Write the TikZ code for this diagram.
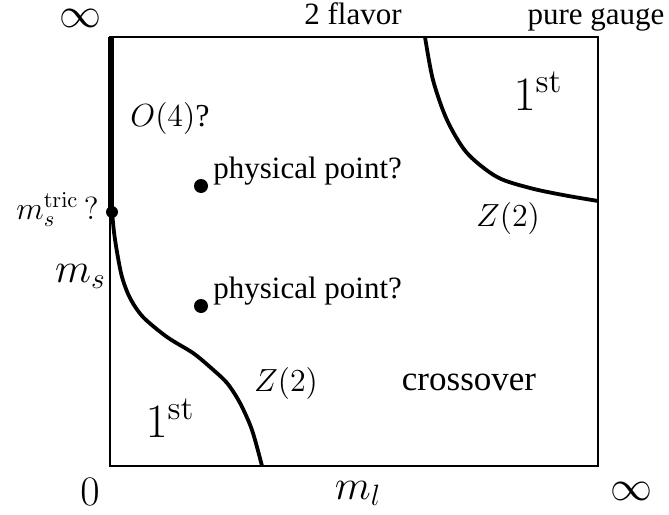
\RequirePackage{fix-cm}
\documentclass[tikz,border=0pt]{standalone}
\usepackage[no-math]{fontspec}
\setmainfont{Liberation Serif}
\begin{document}
\begin{tikzpicture}[x=0.5pt, y=-0.5pt,
  txt/.style={font=\fontsize{15.5}{18}\selectfont, inner sep=0pt},
  axmath/.style={font=\fontsize{21}{25}\selectfont, inner sep=0pt},
  regmath/.style={font=\fontsize{16}{19}\selectfont, inner sep=0pt},
  ordmath/.style={font=\fontsize{24}{28}\selectfont, inner sep=0pt},
  dotpt/.style={circle, fill=black, inner sep=0pt, minimum size=7pt},
  frame/.style={line width=1.4pt},
  critline/.style={line width=1.9pt},
]
\useasboundingbox (0,0) rectangle (669,514);
% frame of the mass plane
\draw[frame] (110,37) rectangle (598,466);
\draw[line width=2.6pt] (111,37) -- (111,212);
% axis labels
\node[axmath] (inftop) at (80,18) {$\infty$};
\node[txt, anchor=base] (flav) at (353,25) {2 flavor};
\node[txt, anchor=base] (pure) at (596,25) {pure gauge};
\node[axmath] (zero) at (90,492) {$0$};
\node[axmath, anchor=base] (ml) at (358,499) {$m_l$};
\node[axmath] (infright) at (631,491) {$\infty$};
\node[axmath, anchor=base east] (ms) at (106,282) {$m_s$};
\node[regmath, anchor=base east] (tric) at (99,219) {$m_s^{\rm tric}\,?$};
% critical lines
\draw[critline] plot[smooth] coordinates {(425,37) (433,80) (447,120) (467,153)
  (497,177) (530,188) (563,195) (598,201)};
\draw[critline] plot[smooth] coordinates {(112,212) (114,232) (117,252) (122,277)
  (130,298) (143,317) (167,337) (193,353) (210,367) (227,383) (240,403) (252,430)
  (262,466)};
% points
\node[dotpt, minimum size=6pt] (tdot) at (112,212) {};
\node[dotpt] (phys1) at (201,186) {};
\node[dotpt] (phys2) at (201,306) {};
\node[txt, anchor=base west] (physlbl1) at (213,178) {physical point?};
\node[txt, anchor=base west] (physlbl2) at (213,298) {physical point?};
% regions
\node[regmath] (o4) at (170,118) {$O(4)$?};
\node[ordmath, anchor=base] (first1) at (538,110) {$1^{\rm st}$};
\node[regmath] (z2a) at (508,218) {$Z(2)$};
\node[regmath] (z2b) at (286,383) {$Z(2)$};
\node[ordmath, anchor=base] (first2) at (170,437) {$1^{\rm st}$};
\node[txt, font=\fontsize{17.5}{20}\selectfont] (cross) at (469,382) {crossover};
\end{tikzpicture}
\end{document}
